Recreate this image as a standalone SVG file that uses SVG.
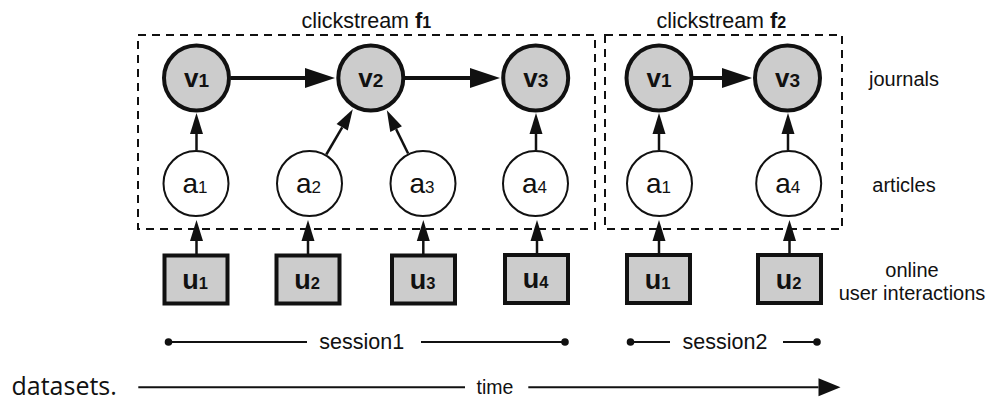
<svg xmlns="http://www.w3.org/2000/svg" width="988" height="401" viewBox="0 0 988 401">
<defs>
<style>
.txt{font-family:"Liberation Sans",Arial,Helvetica,sans-serif;fill:#111}
.lbl{font-size:20px}
.hdr{font-size:21.5px}
.sess{font-size:21.5px}
.jn{fill:#cccccc;stroke:#111;stroke-width:4}
.ar{fill:#fff;stroke:#111;stroke-width:2}
.us{fill:#cccccc;stroke:#111;stroke-width:4}
.bold{font-weight:bold}
.frame{fill:none;stroke:#111;stroke-width:2;stroke-dasharray:8 6}
.sm{stroke:#111;stroke-width:2.5;fill:none;marker-end:url(#ah)}
.big{stroke:#111;stroke-width:4;fill:none;marker-end:url(#ahb)}
.thin{stroke:#111;stroke-width:2;fill:none}
</style>
<marker id="ah" viewBox="0 -7 21 14" refX="0" refY="0" markerWidth="21" markerHeight="14" markerUnits="userSpaceOnUse" orient="auto" overflow="visible"><path d="M0,-6.5 L21,0 L0,6.5 Z" fill="#111"/></marker>
<marker id="ahb" viewBox="0 -10 30 20" refX="0" refY="0" markerWidth="30" markerHeight="20" markerUnits="userSpaceOnUse" orient="auto" overflow="visible"><path d="M0,-10 L30,0 L0,10 Z" fill="#111"/></marker>
<marker id="aht" viewBox="0 -9 22 18" refX="0" refY="0" markerWidth="22" markerHeight="18" markerUnits="userSpaceOnUse" orient="auto" overflow="visible"><path d="M0,-9 L22,0 L0,9 Z" fill="#111"/></marker>
</defs>
<rect x="0" y="0" width="988" height="401" fill="#fff"/>

<g id="frames">
<rect id="frame-f1" class="frame" x="138" y="35" width="457" height="194"/>
<rect id="frame-f2" class="frame" x="605" y="35" width="237" height="194"/>
<text class="txt hdr" x="301.5" y="27.5">clickstream <tspan class="bold" font-size="22">f</tspan><tspan class="bold" font-size="16">1</tspan></text>
<text class="txt hdr" x="656.5" y="27.5">clickstream <tspan class="bold" font-size="22">f</tspan><tspan class="bold" font-size="16">2</tspan></text>
</g>

<g id="connectors">
<line class="big" x1="230.5" y1="78" x2="305" y2="78"/>
<line class="big" x1="405" y1="78" x2="470" y2="78"/>
<line class="big" x1="693" y1="78" x2="722" y2="78"/>
<line class="sm" x1="196.5" y1="150.5" x2="196.5" y2="134"/>
<line class="sm" x1="326.3" y1="154.5" x2="342.2" y2="127.3"/>
<line class="sm" x1="408.1" y1="153.5" x2="396.1" y2="129.1"/>
<line class="sm" x1="536" y1="150.5" x2="536" y2="134"/>
<line class="sm" x1="659" y1="150.5" x2="659" y2="134"/>
<line class="sm" x1="788" y1="150.5" x2="788" y2="134"/>
<line class="sm" x1="196.5" y1="254" x2="196.5" y2="241"/>
<line class="sm" x1="308" y1="254" x2="308" y2="241"/>
<line class="sm" x1="423.3" y1="254" x2="423.3" y2="241"/>
<line class="sm" x1="537" y1="253" x2="537" y2="241"/>
<line class="sm" x1="659" y1="253" x2="659" y2="241"/>
<line class="sm" x1="789.5" y1="253" x2="789.5" y2="241"/>
</g>

<g id="v1-a">
<circle class="jn" cx="196.5" cy="78" r="32.5"/>
<text class="txt bold" x="196.5" y="87" text-anchor="middle"><tspan font-size="26">v</tspan><tspan font-size="19">1</tspan></text>
</g>
<g id="v2-a">
<circle class="jn" cx="370.8" cy="78" r="32.5"/>
<text class="txt bold" x="370.8" y="87" text-anchor="middle"><tspan font-size="26">v</tspan><tspan font-size="19">2</tspan></text>
</g>
<g id="v3-a">
<circle class="jn" cx="535.7" cy="78" r="32.5"/>
<text class="txt bold" x="535.7" y="87" text-anchor="middle"><tspan font-size="26">v</tspan><tspan font-size="19">3</tspan></text>
</g>
<g id="v1-b">
<circle class="jn" cx="659" cy="78" r="32.5"/>
<text class="txt bold" x="659" y="87" text-anchor="middle"><tspan font-size="26">v</tspan><tspan font-size="19">1</tspan></text>
</g>
<g id="v3-b">
<circle class="jn" cx="787.5" cy="78" r="32.5"/>
<text class="txt bold" x="787.5" y="87" text-anchor="middle"><tspan font-size="26">v</tspan><tspan font-size="19">3</tspan></text>
</g>

<g id="a1-a">
<circle class="ar" cx="196" cy="183.5" r="32.5"/>
<text class="txt" x="195" y="193" text-anchor="middle"><tspan font-size="28">a</tspan><tspan font-size="17">1</tspan></text>
</g>
<g id="a2-a">
<circle class="ar" cx="309.5" cy="183.5" r="32.5"/>
<text class="txt" x="308.5" y="193" text-anchor="middle"><tspan font-size="28">a</tspan><tspan font-size="17">2</tspan></text>
</g>
<g id="a3-a">
<circle class="ar" cx="423" cy="183.5" r="32.5"/>
<text class="txt" x="422" y="193" text-anchor="middle"><tspan font-size="28">a</tspan><tspan font-size="17">3</tspan></text>
</g>
<g id="a4-a">
<circle class="ar" cx="535.5" cy="183.5" r="32.5"/>
<text class="txt" x="534.5" y="193" text-anchor="middle"><tspan font-size="28">a</tspan><tspan font-size="17">4</tspan></text>
</g>
<g id="a1-b">
<circle class="ar" cx="659.5" cy="183.5" r="32.5"/>
<text class="txt" x="658.5" y="193" text-anchor="middle"><tspan font-size="28">a</tspan><tspan font-size="17">1</tspan></text>
</g>
<g id="a4-b">
<circle class="ar" cx="788.7" cy="183.5" r="32.5"/>
<text class="txt" x="787.7" y="193" text-anchor="middle"><tspan font-size="28">a</tspan><tspan font-size="17">4</tspan></text>
</g>

<g id="u1-a">
<rect class="us" x="164.5" y="255.5" width="63" height="48"/>
<text class="txt bold" x="195" y="289" text-anchor="middle"><tspan font-size="27">u</tspan><tspan font-size="16.5">1</tspan></text>
</g>
<g id="u2-a">
<rect class="us" x="276.5" y="255.5" width="63" height="48"/>
<text class="txt bold" x="307" y="289" text-anchor="middle"><tspan font-size="27">u</tspan><tspan font-size="16.5">2</tspan></text>
</g>
<g id="u3-a">
<rect class="us" x="392" y="255.5" width="63" height="48"/>
<text class="txt bold" x="422.5" y="289" text-anchor="middle"><tspan font-size="27">u</tspan><tspan font-size="16.5">3</tspan></text>
</g>
<g id="u4-a">
<rect class="us" x="505" y="255" width="63" height="48"/>
<text class="txt bold" x="535.5" y="288" text-anchor="middle"><tspan font-size="27">u</tspan><tspan font-size="16.5">4</tspan></text>
</g>
<g id="u1-b">
<rect class="us" x="627" y="255" width="63" height="48"/>
<text class="txt bold" x="657.5" y="288.5" text-anchor="middle"><tspan font-size="27">u</tspan><tspan font-size="16.5">1</tspan></text>
</g>
<g id="u2-b">
<rect class="us" x="758" y="255" width="63" height="48"/>
<text class="txt bold" x="788.5" y="288.5" text-anchor="middle"><tspan font-size="27">u</tspan><tspan font-size="16.5">2</tspan></text>
</g>

<g id="row-labels">
<text class="txt lbl" x="904" y="86" text-anchor="middle">journals</text>
<text class="txt lbl" x="904" y="191.5" text-anchor="middle">articles</text>
<text class="txt lbl" x="912" y="277" text-anchor="middle">online</text>
<text class="txt lbl" x="912" y="300" text-anchor="middle">user interactions</text>
</g>

<g id="sessions">
<line class="thin" x1="168.5" y1="342" x2="307" y2="342"/>
<line class="thin" x1="421" y1="342" x2="565" y2="342"/>
<circle cx="168.5" cy="342" r="3.8" fill="#111"/>
<circle cx="565" cy="342" r="3.8" fill="#111"/>
<text class="txt sess" x="361.7" y="349" text-anchor="middle">session1</text>
<line class="thin" x1="630.5" y1="342" x2="670" y2="342"/>
<line class="thin" x1="783" y1="342" x2="817" y2="342"/>
<circle cx="630.5" cy="342" r="3.8" fill="#111"/>
<circle cx="817" cy="342" r="3.8" fill="#111"/>
<text class="txt sess" x="725" y="349" text-anchor="middle">session2</text>
</g>

<g id="timeline">
<line class="thin" x1="138.3" y1="387.3" x2="465" y2="387.3"/>
<line class="thin" x1="528.3" y1="387.3" x2="818.5" y2="387.3" marker-end="url(#aht)"/>
<text class="txt" font-size="19.5" x="495" y="393.5" text-anchor="middle">time</text>
</g>

<text x="11.5" y="395" font-family="'Open Sans','Noto Sans',sans-serif" font-size="25" fill="#111">datasets.</text>
</svg>
